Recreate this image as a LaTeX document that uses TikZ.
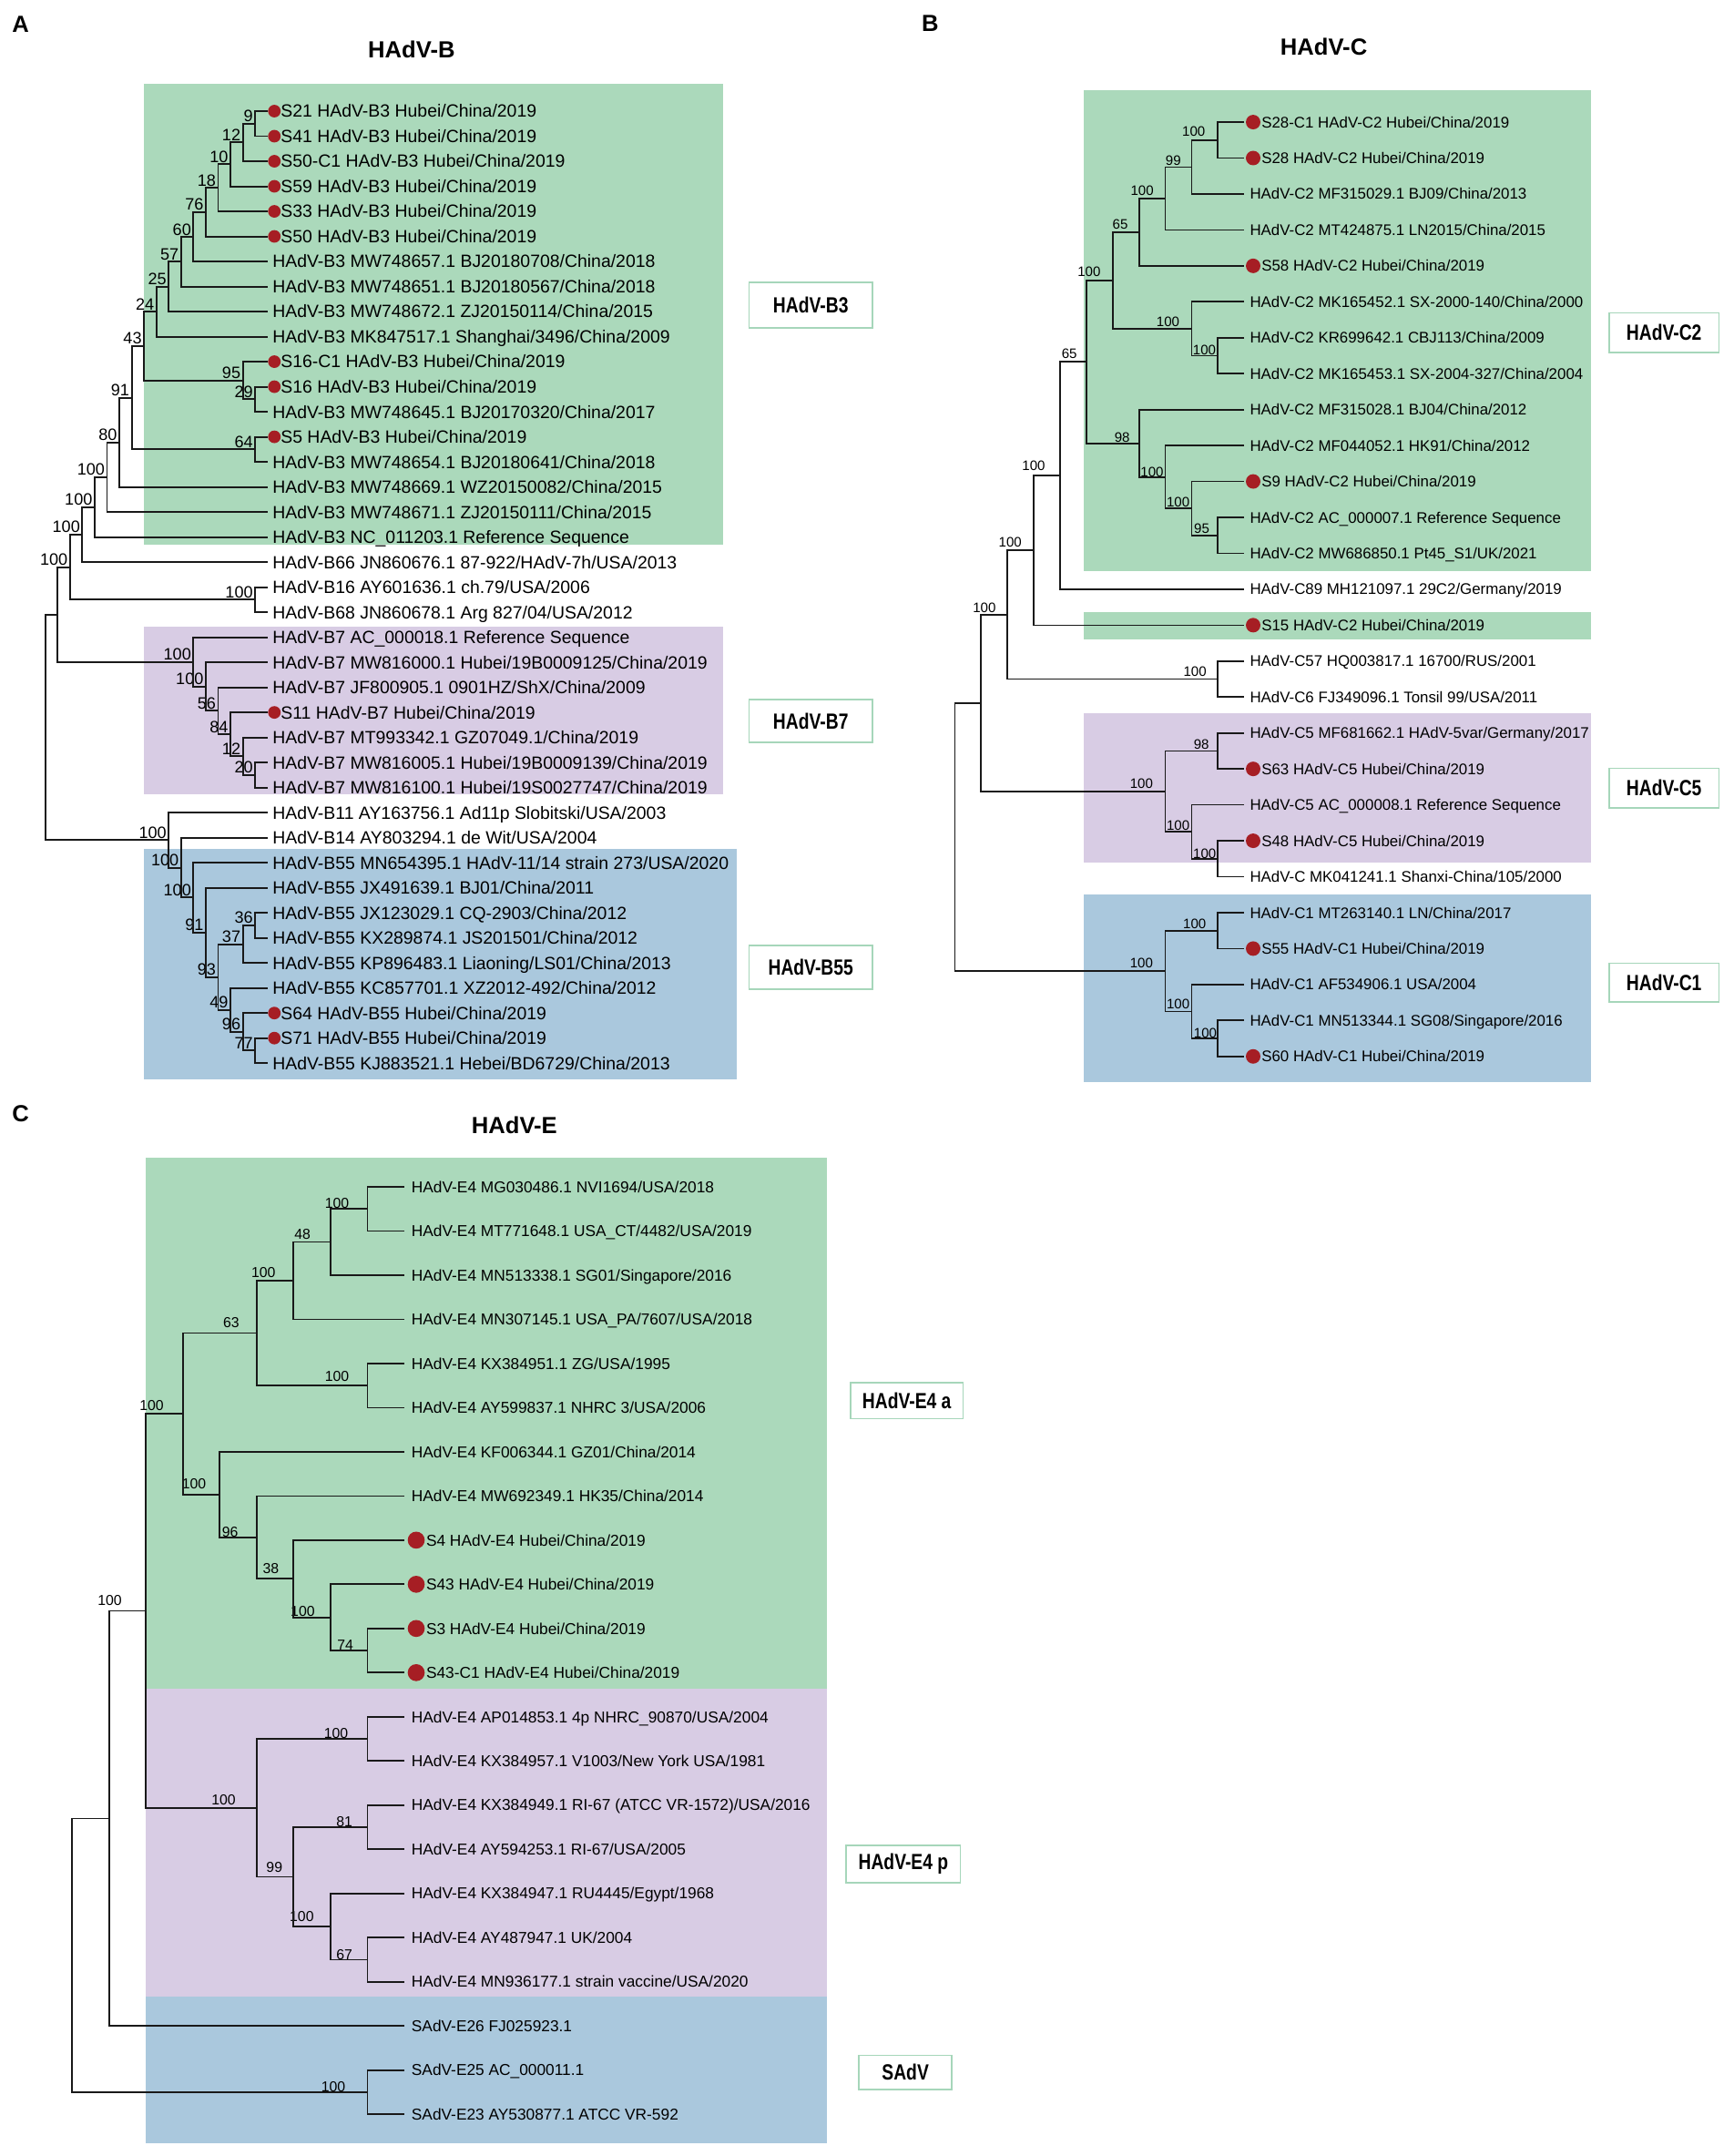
\documentclass[tikz,border=0pt]{standalone}
\usepackage{fontspec}
\setmainfont{Liberation Sans}
\usepackage{graphicx}
\definecolor{grnF}{RGB}{171,217,187}
\definecolor{purF}{RGB}{216,204,228}
\definecolor{bluF}{RGB}{170,200,221}
\definecolor{dotR}{RGB}{166,30,36}
\definecolor{boxE}{RGB}{166,214,186}
\newcommand{\leafA}[3]{%
  \coordinate (lA#1) at (195,{81+18.26*#1});
  \ifnum#2=1
    \node[dotA] (dA#1) at (200,{81+18.26*#1}) {};
    \node[tA] (tA#1) at (204.5,{81+18.26*#1+4.6}) {#3};
  \else
    \node[tA] (tA#1) at (198.5,{81+18.26*#1+4.6}) {#3};
  \fi}
\newcommand{\leafB}[3]{%
  \coordinate (lB#1) at (907,{89+26.19*#1});
  \ifnum#2=1
    \node[dotB] (dB#1) at (913.5,{89+26.19*#1}) {};
    \node[tB] (tB#1) at (919.5,{89+26.19*#1+4}) {#3};
  \else
    \node[tB] (tB#1) at (911,{89+26.19*#1+4}) {#3};
  \fi}
\newcommand{\leafC}[3]{%
  \coordinate (lC#1) at (294.7,{865+32.19*#1});
  \ifnum#2=1
    \node[dotC] (dC#1) at (303.4,{865+32.19*#1}) {};
    \node[tC] (tC#1) at (310.5,{865+32.19*#1+4.1}) {#3};
  \else
    \node[tC] (tC#1) at (299.8,{865+32.19*#1+4.1}) {#3};
  \fi}
\newcommand{\inA}[4]{%
  \coordinate (#1) at ({195-9*#2},#3);
  \node[bsA,anchor=base east] (#1l) at ({195-9*#2-1.5},{#3-1.3}) {#4};}
\newcommand{\inB}[6]{%
  \coordinate (#1) at ({907-19.18*#2},#3);
  \node[bsB,anchor=base] (#1l) at (#5,{#3-#6}) {#4};}
\newcommand{\inC}[6]{%
  \coordinate (#1) at ({294.7-26.9*#2},#3);
  \node[bsC,anchor=base] (#1l) at (#5,{#3-#6}) {#4};}
\newcommand{\brk}[4]{\draw[#1] (#3) -| (#2) |- (#4);}
\begin{document}
\begin{tikzpicture}[x=1pt,y=-1pt,
 brA/.style={line width=1.3pt,black!90},
 brB/.style={line width=1.15pt,black!90},
 tA/.style={font=\fontsize{12.9}{15}\selectfont,inner sep=0pt,anchor=base west},
 tB/.style={font=\fontsize{11.2}{13}\selectfont,inner sep=0pt,anchor=base west},
 tC/.style={font=\fontsize{11.5}{13}\selectfont,inner sep=0pt,anchor=base west},
 bsA/.style={font=\fontsize{12}{14}\selectfont,inner sep=0pt},
 bsB/.style={font=\fontsize{10}{12}\selectfont,inner sep=0pt},
 bsC/.style={font=\fontsize{10.5}{12}\selectfont,inner sep=0pt},
 dotA/.style={circle,fill=dotR,inner sep=0pt,minimum size=9.2pt},
 dotB/.style={circle,fill=dotR,inner sep=0pt,minimum size=10.6pt},
 dotC/.style={circle,fill=dotR,inner sep=0pt,minimum size=12.4pt},
 glab/.style={draw=boxE,line width=1.2pt,fill=white,inner sep=0pt,font=\bfseries\fontsize{16}{18}\selectfont},
 ttl/.style={font=\bfseries\fontsize{17}{20}\selectfont,inner sep=0pt},
 plet/.style={font=\bfseries\fontsize{17}{20}\selectfont,inner sep=0pt}]
\useasboundingbox[fill=white] (0,0) rectangle (1264,1571.4);

% ---------- shaded clades ----------
\fill[grnF] (105,61) rectangle (527,397);
\fill[purF] (105,457) rectangle (527,579);
\fill[bluF] (105,619) rectangle (537,787);
\fill[grnF] (790,66) rectangle (1160,416);
\fill[grnF] (790,446) rectangle (1160,466);
\fill[purF] (790,520) rectangle (1160,629);
\fill[bluF] (790,652) rectangle (1160,789);
\fill[grnF] (106.5,844) rectangle (603,1231);
\fill[purF] (106.5,1231) rectangle (603,1455);
\fill[bluF] (106.5,1455) rectangle (603,1562);

% ---------- titles ----------
\node[plet] (pA) at (15,18) {A};
\node[plet] (pB) at (678,17) {B};
\node[plet] (pC) at (15,812) {C};
\node[ttl] (ttlB) at (300,36) {HAdV-B};
\node[ttl] (ttlC) at (965,34) {HAdV-C};
\node[ttl] (ttlE) at (375,820) {HAdV-E};

% ================= PANEL A =================
\leafA{0}{1}{S21 HAdV-B3 Hubei/China/2019}
\leafA{1}{1}{S41 HAdV-B3 Hubei/China/2019}
\leafA{2}{1}{S50-C1 HAdV-B3 Hubei/China/2019}
\leafA{3}{1}{S59 HAdV-B3 Hubei/China/2019}
\leafA{4}{1}{S33 HAdV-B3 Hubei/China/2019}
\leafA{5}{1}{S50 HAdV-B3 Hubei/China/2019}
\leafA{6}{0}{HAdV-B3 MW748657.1 BJ20180708/China/2018}
\leafA{7}{0}{HAdV-B3 MW748651.1 BJ20180567/China/2018}
\leafA{8}{0}{HAdV-B3 MW748672.1 ZJ20150114/China/2015}
\leafA{9}{0}{HAdV-B3 MK847517.1 Shanghai/3496/China/2009}
\leafA{10}{1}{S16-C1 HAdV-B3 Hubei/China/2019}
\leafA{11}{1}{S16 HAdV-B3 Hubei/China/2019}
\leafA{12}{0}{HAdV-B3 MW748645.1 BJ20170320/China/2017}
\leafA{13}{1}{S5 HAdV-B3 Hubei/China/2019}
\leafA{14}{0}{HAdV-B3 MW748654.1 BJ20180641/China/2018}
\leafA{15}{0}{HAdV-B3 MW748669.1 WZ20150082/China/2015}
\leafA{16}{0}{HAdV-B3 MW748671.1 ZJ20150111/China/2015}
\leafA{17}{0}{HAdV-B3 NC\_011203.1 Reference Sequence}
\leafA{18}{0}{HAdV-B66 JN860676.1 87-922/HAdV-7h/USA/2013}
\leafA{19}{0}{HAdV-B16 AY601636.1 ch.79/USA/2006}
\leafA{20}{0}{HAdV-B68 JN860678.1 Arg 827/04/USA/2012}
\leafA{21}{0}{HAdV-B7 AC\_000018.1 Reference Sequence}
\leafA{22}{0}{HAdV-B7 MW816000.1 Hubei/19B0009125/China/2019}
\leafA{23}{0}{HAdV-B7 JF800905.1 0901HZ/ShX/China/2009}
\leafA{24}{1}{S11 HAdV-B7 Hubei/China/2019}
\leafA{25}{0}{HAdV-B7 MT993342.1 GZ07049.1/China/2019}
\leafA{26}{0}{HAdV-B7 MW816005.1 Hubei/19B0009139/China/2019}
\leafA{27}{0}{HAdV-B7 MW816100.1 Hubei/19S0027747/China/2019}
\leafA{28}{0}{HAdV-B11 AY163756.1 Ad11p Slobitski/USA/2003}
\leafA{29}{0}{HAdV-B14 AY803294.1 de Wit/USA/2004}
\leafA{30}{0}{HAdV-B55 MN654395.1 HAdV-11/14 strain 273/USA/2020}
\leafA{31}{0}{HAdV-B55 JX491639.1 BJ01/China/2011}
\leafA{32}{0}{HAdV-B55 JX123029.1 CQ-2903/China/2012}
\leafA{33}{0}{HAdV-B55 KX289874.1 JS201501/China/2012}
\leafA{34}{0}{HAdV-B55 KP896483.1 Liaoning/LS01/China/2013}
\leafA{35}{0}{HAdV-B55 KC857701.1 XZ2012-492/China/2012}
\leafA{36}{1}{S64 HAdV-B55 Hubei/China/2019}
\leafA{37}{1}{S71 HAdV-B55 Hubei/China/2019}
\leafA{38}{0}{HAdV-B55 KJ883521.1 Hebei/BD6729/China/2013}

\inA{a1}{1}{90.13}{9}
\inA{a2}{2}{103.83}{12}
\inA{a3}{3}{119.80}{10}
\inA{a4}{4}{136.92}{18}
\inA{a5}{5}{154.61}{76}
\inA{a6}{6}{172.59}{60}
\inA{a7}{7}{190.70}{57}
\inA{a8}{8}{208.89}{25}
\inA{a9}{9}{227.12}{24}
\inA{a10}{1}{290.99}{29}
\inA{a11}{2}{277.30}{95}
\inA{a12}{10}{252.21}{43}
\inA{a13}{1}{327.51}{64}
\inA{a14}{11}{289.86}{91}
\inA{a15}{12}{322.38}{80}
\inA{a16}{13}{347.77}{100}
\inA{a17}{14}{369.60}{100}
\inA{a18}{15}{389.64}{100}
\inA{a19}{1}{437.07}{100}
\inA{a20}{16}{413.36}{100}
\inA{a21}{1}{564.89}{20}
\inA{a22}{2}{551.20}{12}
\inA{a23}{3}{535.22}{84}
\inA{a24}{4}{518.10}{56}
\inA{a25}{5}{500.41}{100}
\inA{a26}{6}{482.44}{100}
\coordinate (a27) at (42,447.90);
\inA{a28}{1}{674.45}{36}
\inA{a29}{2}{688.15}{37}
\inA{a30}{1}{765.75}{77}
\inA{a31}{2}{752.06}{96}
\inA{a32}{3}{736.08}{49}
\inA{a33}{4}{712.11}{93}
\inA{a34}{5}{679.59}{91}
\inA{a35}{6}{654.19}{100}
\inA{a36}{7}{632.37}{100}
\inA{a37}{8}{612.32}{100}
\coordinate (aR) at (33,530.11);

\brk{brA}{a1}{lA0}{lA1}
\brk{brA}{a2}{a1}{lA2}
\brk{brA}{a3}{a2}{lA3}
\brk{brA}{a4}{a3}{lA4}
\brk{brA}{a5}{a4}{lA5}
\brk{brA}{a6}{a5}{lA6}
\brk{brA}{a7}{a6}{lA7}
\brk{brA}{a8}{a7}{lA8}
\brk{brA}{a9}{a8}{lA9}
\brk{brA}{a10}{lA11}{lA12}
\brk{brA}{a11}{lA10}{a10}
\brk{brA}{a12}{a9}{a11}
\brk{brA}{a13}{lA13}{lA14}
\brk{brA}{a14}{a12}{a13}
\brk{brA}{a15}{a14}{lA15}
\brk{brA}{a16}{a15}{lA16}
\brk{brA}{a17}{a16}{lA17}
\brk{brA}{a18}{a17}{lA18}
\brk{brA}{a19}{lA19}{lA20}
\brk{brA}{a20}{a18}{a19}
\brk{brA}{a21}{lA26}{lA27}
\brk{brA}{a22}{lA25}{a21}
\brk{brA}{a23}{lA24}{a22}
\brk{brA}{a24}{lA23}{a23}
\brk{brA}{a25}{lA22}{a24}
\brk{brA}{a26}{lA21}{a25}
\brk{brA}{a27}{a20}{a26}
\brk{brA}{a28}{lA32}{lA33}
\brk{brA}{a29}{a28}{lA34}
\brk{brA}{a30}{lA37}{lA38}
\brk{brA}{a31}{lA36}{a30}
\brk{brA}{a32}{lA35}{a31}
\brk{brA}{a33}{a29}{a32}
\brk{brA}{a34}{lA31}{a33}
\brk{brA}{a35}{lA30}{a34}
\brk{brA}{a36}{lA29}{a35}
\brk{brA}{a37}{lA28}{a36}
\brk{brA}{aR}{a27}{a37}

\node[glab,minimum width=90pt,minimum height=33pt] (kB3) at (591,222.5) {\scalebox{0.8}[1]{HAdV-B3}};
\node[glab,minimum width=90pt,minimum height=31pt] (kB7) at (591,525.5) {\scalebox{0.8}[1]{HAdV-B7}};
\node[glab,minimum width=90pt,minimum height=32pt] (kB55) at (591,705) {\scalebox{0.8}[1]{HAdV-B55}};

% ================= PANEL B =================
\leafB{0}{1}{S28-C1 HAdV-C2 Hubei/China/2019}
\leafB{1}{1}{S28 HAdV-C2 Hubei/China/2019}
\leafB{2}{0}{HAdV-C2 MF315029.1 BJ09/China/2013}
\leafB{3}{0}{HAdV-C2 MT424875.1 LN2015/China/2015}
\leafB{4}{1}{S58 HAdV-C2 Hubei/China/2019}
\leafB{5}{0}{HAdV-C2 MK165452.1 SX-2000-140/China/2000}
\leafB{6}{0}{HAdV-C2 KR699642.1 CBJ113/China/2009}
\leafB{7}{0}{HAdV-C2 MK165453.1 SX-2004-327/China/2004}
\leafB{8}{0}{HAdV-C2 MF315028.1 BJ04/China/2012}
\leafB{9}{0}{HAdV-C2 MF044052.1 HK91/China/2012}
\leafB{10}{1}{S9 HAdV-C2 Hubei/China/2019}
\leafB{11}{0}{HAdV-C2 AC\_000007.1 Reference Sequence}
\leafB{12}{0}{HAdV-C2 MW686850.1 Pt45\_S1/UK/2021}
\leafB{13}{0}{HAdV-C89 MH121097.1 29C2/Germany/2019}
\leafB{14}{1}{S15 HAdV-C2 Hubei/China/2019}
\leafB{15}{0}{HAdV-C57 HQ003817.1 16700/RUS/2001}
\leafB{16}{0}{HAdV-C6 FJ349096.1 Tonsil 99/USA/2011}
\leafB{17}{0}{HAdV-C5 MF681662.1 HAdV-5var/Germany/2017}
\leafB{18}{1}{S63 HAdV-C5 Hubei/China/2019}
\leafB{19}{0}{HAdV-C5 AC\_000008.1 Reference Sequence}
\leafB{20}{1}{S48 HAdV-C5 Hubei/China/2019}
\leafB{21}{0}{HAdV-C MK041241.1 Shanxi-China/105/2000}
\leafB{22}{0}{HAdV-C1 MT263140.1 LN/China/2017}
\leafB{23}{1}{S55 HAdV-C1 Hubei/China/2019}
\leafB{24}{0}{HAdV-C1 AF534906.1 USA/2004}
\leafB{25}{0}{HAdV-C1 MN513344.1 SG08/Singapore/2016}
\leafB{26}{1}{S60 HAdV-C1 Hubei/China/2019}

\inB{b1}{1}{102.10}{100}{870.2}{2.8}
\inB{b2}{2}{121.74}{99}{855.3}{1.2}
\inB{b3}{3}{144.66}{100}{832.6}{2.3}
\inB{b4}{4}{169.21}{65}{816.6}{2.3}
\inB{b5}{1}{259.24}{100}{878}{0.5}
\inB{b6}{2}{239.59}{100}{851.4}{1.6}
\inB{b7}{5}{204.40}{100}{793.9}{2.8}
\inB{b8}{1}{390.19}{95}{876}{1.6}
\inB{b9}{2}{370.54}{100}{858.8}{1.2}
\inB{b10}{3}{347.63}{100}{839.8}{0.3}
\inB{b11}{4}{323.07}{98}{818}{0.7}
\inB{b12}{6}{263.74}{65}{779.5}{2.3}
\inB{b13}{7}{346.60}{100}{753.5}{3.5}
\inB{b14}{8}{401.13}{100}{736.4}{2.3}
\inB{b15}{1}{494.95}{100}{871.1}{1.7}
\inB{b16}{9}{448.04}{100}{717.6}{1.9}
\inB{b17}{1}{547.33}{98}{875.8}{1.2}
\inB{b18}{1}{625.90}{100}{878.1}{0.3}
\inB{b19}{2}{606.25}{100}{858.8}{1.2}
\inB{b20}{3}{576.79}{100}{832.1}{2.4}
\inB{b21}{1}{678.28}{100}{870.8}{1.2}
\inB{b22}{1}{756.85}{100}{878.6}{0.3}
\inB{b23}{2}{737.20}{100}{858.8}{1.9}
\inB{b24}{3}{707.74}{100}{832.1}{2.4}
\coordinate (b25) at (715.2,512.42);
\coordinate (bR) at (696,610.08);

\brk{brB}{b1}{lB0}{lB1}
\brk{brB}{b2}{b1}{lB2}
\brk{brB}{b3}{b2}{lB3}
\brk{brB}{b4}{b3}{lB4}
\brk{brB}{b5}{lB6}{lB7}
\brk{brB}{b6}{lB5}{b5}
\brk{brB}{b7}{b4}{b6}
\brk{brB}{b8}{lB11}{lB12}
\brk{brB}{b9}{lB10}{b8}
\brk{brB}{b10}{lB9}{b9}
\brk{brB}{b11}{lB8}{b10}
\brk{brB}{b12}{b7}{b11}
\brk{brB}{b13}{b12}{lB13}
\brk{brB}{b14}{b13}{lB14}
\brk{brB}{b15}{lB15}{lB16}
\brk{brB}{b16}{b14}{b15}
\brk{brB}{b17}{lB17}{lB18}
\brk{brB}{b18}{lB20}{lB21}
\brk{brB}{b19}{lB19}{b18}
\brk{brB}{b20}{b17}{b19}
\brk{brB}{b21}{lB22}{lB23}
\brk{brB}{b22}{lB25}{lB26}
\brk{brB}{b23}{lB24}{b22}
\brk{brB}{b24}{b21}{b23}
\brk{brB}{b25}{b16}{b20}
\brk{brB}{bR}{b25}{b24}

\node[glab,minimum width=80pt,minimum height=29pt] (kC2) at (1213,242.5) {\scalebox{0.8}[1]{HAdV-C2}};
\node[glab,minimum width=80pt,minimum height=29pt] (kC5) at (1213,574.5) {\scalebox{0.8}[1]{HAdV-C5}};
\node[glab,minimum width=80pt,minimum height=28pt] (kC1) at (1213,716) {\scalebox{0.8}[1]{HAdV-C1}};

% ================= PANEL C =================
\leafC{0}{0}{HAdV-E4 MG030486.1 NVI1694/USA/2018}
\leafC{1}{0}{HAdV-E4 MT771648.1 USA\_CT/4482/USA/2019}
\leafC{2}{0}{HAdV-E4 MN513338.1 SG01/Singapore/2016}
\leafC{3}{0}{HAdV-E4 MN307145.1 USA\_PA/7607/USA/2018}
\leafC{4}{0}{HAdV-E4 KX384951.1 ZG/USA/1995}
\leafC{5}{0}{HAdV-E4 AY599837.1 NHRC 3/USA/2006}
\leafC{6}{0}{HAdV-E4 KF006344.1 GZ01/China/2014}
\leafC{7}{0}{HAdV-E4 MW692349.1 HK35/China/2014}
\leafC{8}{1}{S4 HAdV-E4 Hubei/China/2019}
\leafC{9}{1}{S43 HAdV-E4 Hubei/China/2019}
\leafC{10}{1}{S3 HAdV-E4 Hubei/China/2019}
\leafC{11}{1}{S43-C1 HAdV-E4 Hubei/China/2019}
\leafC{12}{0}{HAdV-E4 AP014853.1 4p NHRC\_90870/USA/2004}
\leafC{13}{0}{HAdV-E4 KX384957.1 V1003/New York USA/1981}
\leafC{14}{0}{HAdV-E4 KX384949.1 RI-67 (ATCC VR-1572)/USA/2016}
\leafC{15}{0}{HAdV-E4 AY594253.1 RI-67/USA/2005}
\leafC{16}{0}{HAdV-E4 KX384947.1 RU4445/Egypt/1968}
\leafC{17}{0}{HAdV-E4 AY487947.1 UK/2004}
\leafC{18}{0}{HAdV-E4 MN936177.1 strain vaccine/USA/2020}
\leafC{19}{0}{SAdV-E26 FJ025923.1}
\leafC{20}{0}{SAdV-E25 AC\_000011.1}
\leafC{21}{0}{SAdV-E23 AY530877.1 ATCC VR-592}

\inC{c1}{1}{881.10}{100}{245.6}{0.5}
\inC{c2}{2}{905.24}{48}{220.5}{1.8}
\inC{c3}{3}{933.40}{100}{192}{2.5}
\inC{c4}{1}{1009.86}{100}{245.6}{3}
\inC{c5}{4}{971.63}{63}{168.5}{4}
\inC{c6}{1}{1203.00}{74}{251.7}{0.5}
\inC{c7}{2}{1178.85}{100}{220.7}{0.5}
\inC{c8}{3}{1150.69}{38}{197.5}{4}
\inC{c9}{4}{1120.51}{96}{167.7}{0.3}
\inC{c10}{5}{1089.33}{100}{141.4}{4}
\inC{c11}{6}{1030.48}{100}{110.6}{2.6}
\inC{c12}{1}{1267.38}{100}{245}{0.2}
\inC{c13}{1}{1331.76}{81}{251}{0.5}
\inC{c14}{1}{1428.33}{67}{251}{0.3}
\inC{c15}{2}{1404.18}{100}{220}{3.7}
\inC{c16}{3}{1367.97}{99}{200}{3.3}
\inC{c17}{4}{1317.67}{100}{163}{2.2}
\inC{c18}{7}{1174.08}{100}{80}{3.9}
\coordinate (c19) at (79.5,1325.34);
\inC{c20}{1}{1524.90}{100}{243}{0.2}
\coordinate (cR) at (52.6,1425.12);

\brk{brB}{c1}{lC0}{lC1}
\brk{brB}{c2}{c1}{lC2}
\brk{brB}{c3}{c2}{lC3}
\brk{brB}{c4}{lC4}{lC5}
\brk{brB}{c5}{c3}{c4}
\brk{brB}{c6}{lC10}{lC11}
\brk{brB}{c7}{lC9}{c6}
\brk{brB}{c8}{lC8}{c7}
\brk{brB}{c9}{lC7}{c8}
\brk{brB}{c10}{lC6}{c9}
\brk{brB}{c11}{c5}{c10}
\brk{brB}{c12}{lC12}{lC13}
\brk{brB}{c13}{lC14}{lC15}
\brk{brB}{c14}{lC17}{lC18}
\brk{brB}{c15}{lC16}{c14}
\brk{brB}{c16}{c13}{c15}
\brk{brB}{c17}{c12}{c16}
\brk{brB}{c18}{c11}{c17}
\brk{brB}{c19}{c18}{lC19}
\brk{brB}{c20}{lC20}{lC21}
\brk{brB}{cR}{c19}{c20}

\node[glab,minimum width=82pt,minimum height=26pt] (kE4a) at (661,1021) {\scalebox{0.8}[1]{HAdV-E4 a}};
\node[glab,minimum width=83pt,minimum height=27pt] (kE4p) at (658.5,1358.5) {\scalebox{0.8}[1]{HAdV-E4 p}};
\node[glab,minimum width=68pt,minimum height=25pt] (kSAdV) at (660,1510.5) {\scalebox{0.8}[1]{SAdV}};
\end{tikzpicture}
\end{document}
